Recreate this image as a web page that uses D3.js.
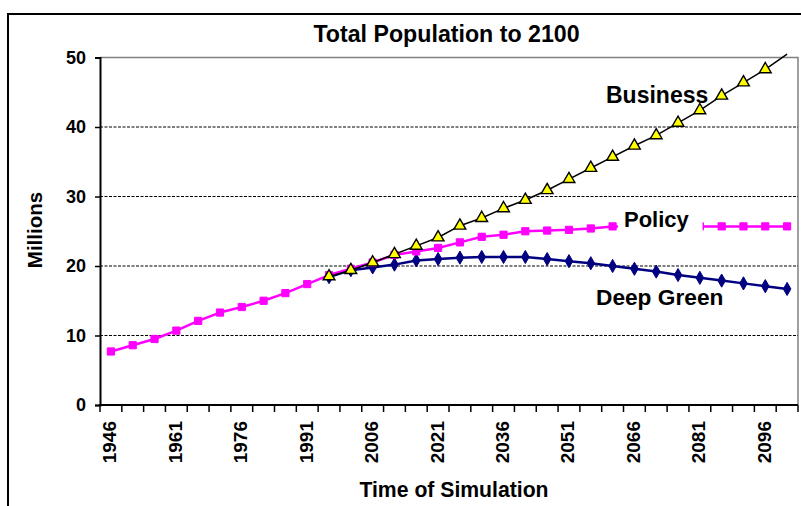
<!DOCTYPE html>
<html>
<head>
<meta charset="utf-8">
<script src="https://cdn.jsdelivr.net/npm/d3@7/dist/d3.min.js"></script>
<style>
  html, body { margin: 0; padding: 0; background: #fff; }
  svg { display: block; }
  text { font-family: "Liberation Sans", Arial, sans-serif; font-weight: bold; fill: #000; }
</style>
</head>
<body>
<svg id="chart" width="801" height="506"></svg>
<script>
// Five-year simulation steps
const years = [1946, 1951, 1956, 1961, 1966, 1971, 1976, 1981, 1986, 1991, 1996, 2001,
  2006, 2011, 2016, 2021, 2026, 2031, 2036, 2041, 2046, 2051, 2056, 2061, 2066, 2071,
  2076, 2081, 2086, 2091, 2096, 2101];
const yearLabels = [1946, 1961, 1976, 1991, 2006, 2021, 2036, 2051, 2066, 2081, 2096];
const yTicks = [0, 10, 20, 30, 40, 50];

// Population in millions (null = not simulated for that year)
const policy = [7.7, 8.6, 9.5, 10.7, 12.1, 13.3, 14.1, 15.0, 16.1, 17.4, 18.7, 19.6,
  20.5, 21.6, 22.1, 22.6, 23.4, 24.2, 24.5, 25.0, 25.1, 25.2, 25.4, 25.7, 25.7, 25.7,
  25.7, 25.7, 25.7, 25.7, 25.7, 25.7];
const business = [null, null, null, null, null, null, null, null, null, null, 18.5, 19.4,
  20.5, 21.7, 22.9, 24.1, 25.8, 26.9, 28.3, 29.5, 30.9, 32.5, 34.1, 35.7, 37.3, 38.8,
  40.6, 42.4, 44.5, 46.4, 48.3, 50.5];
const deepGreen = [null, null, null, null, null, null, null, null, null, null, 18.4, 19.4,
  19.8, 20.2, 20.8, 21.0, 21.2, 21.3, 21.3, 21.3, 21.0, 20.7, 20.4, 20.0, 19.6, 19.2,
  18.7, 18.3, 17.9, 17.5, 17.1, 16.7];

const svg = d3.select("#chart");
const plotL = 100, plotR = 798, plotT = 57.5, plotB = 405;

const x = d3.scaleBand().domain(years).range([plotL, plotR]).padding(0);
const y = d3.scaleLinear().domain([0, 50]).range([plotB, plotT]);
const cx = yr => x(yr) + x.bandwidth() / 2;

svg.append("rect").attr("width", 801).attr("height", 506).attr("fill", "#fff");

// Outer chart frame
svg.append("rect")
  .attr("x", 8).attr("y", 14).attr("width", 830).attr("height", 530)
  .attr("fill", "none").attr("stroke", "#000").attr("stroke-width", 2);

// Title
svg.append("text")
  .attr("x", 446.5).attr("y", 42.3)
  .attr("text-anchor", "middle")
  .style("font-size", "23.2px")
  .text("Total Population to 2100");

// Plot area border (top / right)
svg.append("path")
  .attr("d", `M${plotL},${plotT}H${plotR}V${plotB}`)
  .attr("fill", "none").attr("stroke", "#808080").attr("stroke-width", 1.5);

// Horizontal gridlines
svg.append("g").selectAll("line")
  .data(yTicks.filter(v => v > 0 && v < 50))
  .join("line")
  .attr("x1", plotL).attr("x2", plotR)
  .attr("y1", d => y(d)).attr("y2", d => y(d))
  .attr("stroke", "#000").attr("stroke-width", 1.2)
  .attr("stroke-dasharray", "3,1.5");

// Y axis
const yAxis = svg.append("g")
  .attr("transform", `translate(${plotL},0)`)
  .call(d3.axisLeft(y).tickValues(yTicks).tickSize(5).tickPadding(9).tickFormat(d3.format("d")));
yAxis.select(".domain").attr("stroke", "#000").attr("stroke-width", 2);
yAxis.selectAll(".tick line").attr("stroke", "#000").attr("stroke-width", 1.5);
yAxis.selectAll("text")
  .style("font-size", "18px").style("font-family", "'Liberation Sans', Arial, sans-serif")
  .style("font-weight", "bold").attr("fill", "#000");

// X axis: ticks on category boundaries, labels centered in categories
const xAxis = svg.append("g");
xAxis.append("line")
  .attr("x1", plotL - 1).attr("x2", plotR)
  .attr("y1", plotB).attr("y2", plotB)
  .attr("stroke", "#000").attr("stroke-width", 2);
xAxis.selectAll("line.tk")
  .data(years.map(v => x(v)).concat([plotR]))
  .join("line").attr("class", "tk")
  .attr("x1", d => d).attr("x2", d => d)
  .attr("y1", plotB).attr("y2", plotB + 7)
  .attr("stroke", "#000").attr("stroke-width", 1.5);
xAxis.selectAll("text")
  .data(yearLabels)
  .join("text")
  .attr("transform", d => `translate(${cx(d) + 5.5},421) rotate(-90)`)
  .attr("text-anchor", "end")
  .style("font-size", "19px")
  .text(d => d);

// Axis titles
svg.append("text")
  .attr("x", 454).attr("y", 497)
  .attr("text-anchor", "middle")
  .style("font-size", "21.2px")
  .text("Time of Simulation");
svg.append("text")
  .attr("transform", "translate(42,230) rotate(-90)")
  .attr("text-anchor", "middle")
  .style("font-size", "20.5px")
  .text("Millions");

// Series
function drawSeries(values, color, width, symbol, size, fill, stroke, strokeW) {
  const pts = years.map((yr, i) => ({ yr, v: values[i] })).filter(d => d.v !== null);
  const line = d3.line().x(d => cx(d.yr)).y(d => y(d.v));
  svg.append("path")
    .datum(pts)
    .attr("d", line)
    .attr("fill", "none").attr("stroke", color).attr("stroke-width", width)
    .attr("stroke-linejoin", "round");
  svg.append("g").selectAll("path")
    .data(pts.filter(d => d.v <= 50))
    .join("path")
    .attr("transform", d => `translate(${cx(d.yr)},${y(d.v)})`)
    .attr("d", d3.symbol().type(symbol).size(size))
    .attr("fill", fill).attr("stroke", stroke).attr("stroke-width", strokeW);
}

drawSeries(deepGreen, "#000080", 2.5, d3.symbolDiamond, 50, "#000080", "#000080", 1);
drawSeries(policy, "#ff00ff", 2.5, d3.symbolSquare, 52, "#ff00ff", "#ff00ff", 1);
drawSeries(business, "#000", 1.5, d3.symbolTriangle, 60, "#ffff00", "#000", 1.4);

// Series labels
svg.append("text")
  .attr("x", 606).attr("y", 103)
  .style("font-size", "23px")
  .text("Business");

const policyLabel = svg.append("g");
const pt = policyLabel.append("text")
  .attr("x", 624).attr("y", 226.5)
  .style("font-size", "22px")
  .text("Policy");
const bb = pt.node().getBBox();
policyLabel.insert("rect", "text")
  .attr("x", bb.x - 6).attr("y", bb.y - 2)
  .attr("width", bb.width + 19).attr("height", bb.height + 6)
  .attr("fill", "#fff");

svg.append("text")
  .attr("x", 596).attr("y", 305)
  .style("font-size", "22.7px")
  .text("Deep Green");
</script>
</body>
</html>
